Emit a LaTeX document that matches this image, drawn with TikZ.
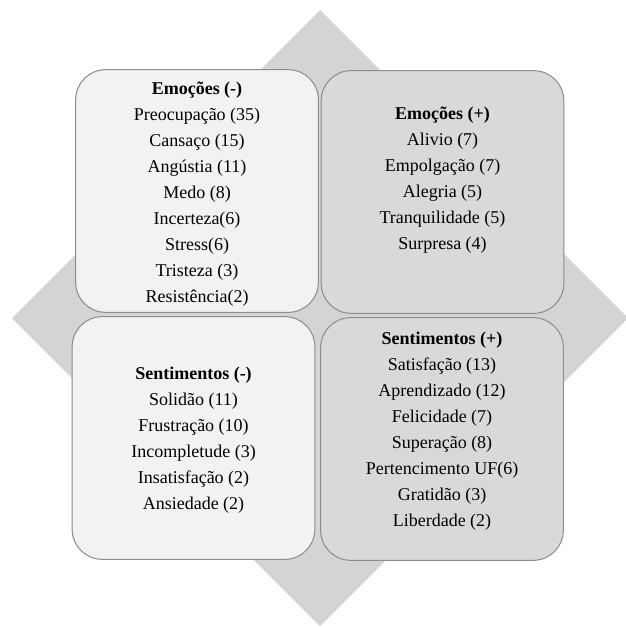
\documentclass[tikz,border=0pt]{standalone}
\usepackage{fontspec}
\setmainfont{Liberation Serif}

\definecolor{losango}{RGB}{212,212,212}
\definecolor{caixaClara}{RGB}{242,242,242}
\definecolor{caixaEscura}{RGB}{217,217,217}
\definecolor{bordaCaixa}{RGB}{140,140,140}

\tikzset{
  caixa/.style={draw=bordaCaixa, line width=0.75pt, rounded corners=22.5pt,
    minimum width=182pt, minimum height=182pt, inner sep=0pt},
  lista/.style={align=center, inner sep=0pt,
    font=\fontsize{13.5}{19.5}\selectfont}
}

\begin{document}
\begin{tikzpicture}[x=0.75pt,y=0.75pt,yscale=-1,xscale=1]
\useasboundingbox (0,0) rectangle (625,627);
\fill[white] (0,0) rectangle (625,627);

%Shape: Diamond
\fill[losango] (320,10) -- (628,318) -- (320,626) -- (12,318) -- cycle;

%Shape: Rounded boxes
\node[caixa, fill=caixaClara] (emoNeg) at (197,191) {};
\node[caixa, fill=caixaEscura] (emoPos) at (442.5,192) {};
\node[caixa, fill=caixaClara] (sentNeg) at (193.5,438) {};
\node[caixa, fill=caixaEscura] (sentPos) at (442,439) {};

% Text Node
\node[lista] (txtEmoNeg) at ([yshift=2pt]emoNeg.center) {\textbf{Emoções (-)}\\Preocupação (35)\\Cansaço (15)\\Angústia (11)\\Medo (8)\\Incerteza(6)\\Stress(6)\\Tristeza (3)\\Resistência(2)};
% Text Node
\node[lista] (txtEmoPos) at ([yshift=-8.8pt]emoPos.center) {\textbf{Emoções (+)}\\Alivio (7)\\Empolgação (7)\\Alegria (5)\\Tranquilidade (5)\\Surpresa (4)};
% Text Node
\node[lista] (txtSentNeg) at ([yshift=1.9pt]sentNeg.center) {\textbf{Sentimentos (-)}\\Solidão (11)\\Frustração (10)\\Incompletude (3)\\Insatisfação (2)\\Ansiedade (2)};
% Text Node
\node[lista] (txtSentPos) at ([yshift=-5.6pt]sentPos.center) {\textbf{Sentimentos (+)}\\Satisfação (13)\\Aprendizado (12)\\Felicidade (7)\\Superação (8)\\Pertencimento UF(6)\\Gratidão (3)\\Liberdade (2)};

\end{tikzpicture}
\end{document}
